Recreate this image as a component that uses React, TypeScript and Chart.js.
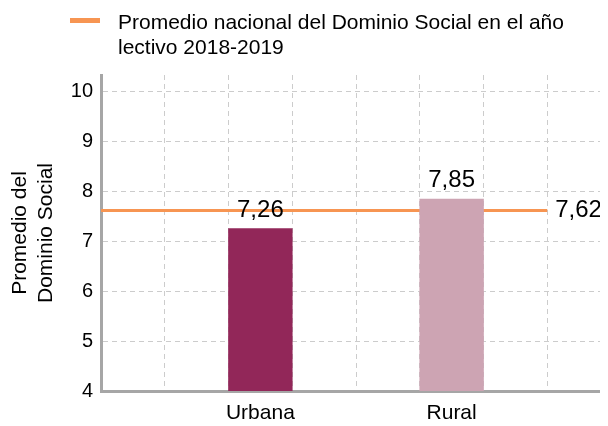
import React, { useEffect, useRef } from 'react';
import { Chart, registerables } from 'chart.js';

Chart.register(...registerables);

const CATEGORIES = ['Urbana', 'Rural'];
const VALUES = [7.26, 7.85];
const BAR_COLORS = ['#922759', '#cda4b3'];
const NATIONAL_AVG = 7.62;
const AVG_COLOR = '#f79552';
const LEGEND_LABEL = 'Promedio nacional del Dominio Social en el año lectivo 2018-2019';
const Y_TITLE = ['Promedio del', 'Dominio Social'];
const Y_MIN = 4;
const Y_MAX = 10;
const Y_TICKS = [4, 5, 6, 7, 8, 9, 10];

// layout: the x axis is split into equal slots; categories sit in some of them
const SLOT_COUNT = 8;
const CATEGORY_SLOTS = [2, 5];
const AVG_LINE_SPAN = [0, 7];

const FONT = '"Liberation Sans", Arial, Helvetica, sans-serif';
const fmt = (v: number) => v.toFixed(2).replace('.', ',');

const slotLabels: string[] = Array.from({ length: SLOT_COUNT }, () => '');
const slotValues: (number | null)[] = Array.from({ length: SLOT_COUNT }, () => null);
const slotColors: string[] = Array.from({ length: SLOT_COUNT }, () => 'transparent');
CATEGORY_SLOTS.forEach((s, i) => {
  slotLabels[s] = CATEGORIES[i];
  slotValues[s] = VALUES[i];
  slotColors[s] = BAR_COLORS[i];
});

const valueLabels = {
  id: 'valueLabels',
  afterDatasetsDraw(chart: any) {
    const ctx = chart.ctx;
    ctx.save();
    ctx.fillStyle = '#000';
    ctx.font = `24px ${FONT}`;
    const barMeta = chart.getDatasetMeta(0);
    barMeta.data.forEach((el: any, i: number) => {
      const v = chart.data.datasets[0].data[i];
      if (v == null) return;
      ctx.textAlign = 'center';
      ctx.textBaseline = 'alphabetic';
      ctx.fillText(fmt(v), el.x, el.y - 12);
    });
    const lineMeta = chart.getDatasetMeta(1);
    const last = lineMeta.data[lineMeta.data.length - 1];
    ctx.textAlign = 'left';
    ctx.textBaseline = 'middle';
    ctx.fillText(fmt(NATIONAL_AVG), last.x + 8, last.y);
    ctx.restore();
  },
};

export default function App() {
  const ref = useRef<HTMLCanvasElement>(null);

  useEffect(() => {
    if (!ref.current) return;
    Chart.defaults.font.family = FONT;
    const chart = new Chart(ref.current, {
      type: 'bar',
      data: {
        labels: slotLabels,
        datasets: [
          {
            type: 'bar',
            data: slotValues,
            backgroundColor: slotColors,
            barPercentage: 1,
            categoryPercentage: 1,
            grouped: false,
            order: 0,
          } as any,
          {
            type: 'line',
            xAxisID: 'x2',
            data: AVG_LINE_SPAN.map((x) => ({ x, y: NATIONAL_AVG })),
            borderColor: AVG_COLOR,
            borderWidth: 3,
            pointRadius: 0,
            order: 1,
          } as any,
        ],
      },
      options: {
        animation: false,
        responsive: false,
        devicePixelRatio: 1,
        layout: { padding: { top: 67, left: 0, right: 0, bottom: 0 } },
        plugins: { legend: { display: false }, tooltip: { enabled: false } },
        scales: {
          x: {
            type: 'category',
            offset: true,
            grid: { offset: true, color: '#cccccc', drawTicks: false },
            border: { color: '#a6a6a6', width: 3, dash: [5, 4] },
            ticks: { padding: 10, color: '#000', font: { size: 21 }, autoSkip: false, maxRotation: 0 },
            afterFit: (s: any) => { s.height = 35; },
          },
          x2: {
            type: 'linear',
            min: 0,
            max: SLOT_COUNT,
            offset: false,
            display: false,
          },
          y: {
            min: Y_MIN,
            max: Y_MAX + 0.34,
            ticks: { stepSize: 1, padding: 8, color: '#000', font: { size: 20 } },
            afterBuildTicks: (s: any) => {
              s.ticks = Y_TICKS.map((v) => ({ value: v }));
            },
            afterFit: (s: any) => { s.width = 93; },
            grid: { color: '#cccccc', drawTicks: false },
            border: { color: '#a6a6a6', width: 3, dash: [5, 4] },
            title: {
              display: true,
              text: Y_TITLE,
              color: '#000',
              font: { size: 21 },
              padding: { top: 0, bottom: 0 },
            },
          },
        },
      } as any,
      plugins: [valueLabels],
    });
    return () => chart.destroy();
  }, []);

  return (
    <div style={{ position: 'relative', width: 600, height: 418, overflow: 'hidden', fontFamily: FONT }}>
      <canvas ref={ref} width={603} height={418} style={{ position: 'absolute', left: 0, top: 0 }} />
      <div style={{ position: 'absolute', left: 62, top: 0 }}>
        <span
          style={{ position: 'absolute', left: 0, top: 10, width: 30, height: 5, background: AVG_COLOR }}
        />
        <div style={{ position: 'absolute', left: 48, top: 1, width: 470, fontSize: 21, lineHeight: '25px', color: '#000' }}>
          {LEGEND_LABEL}
        </div>
      </div>
    </div>
  );
}
